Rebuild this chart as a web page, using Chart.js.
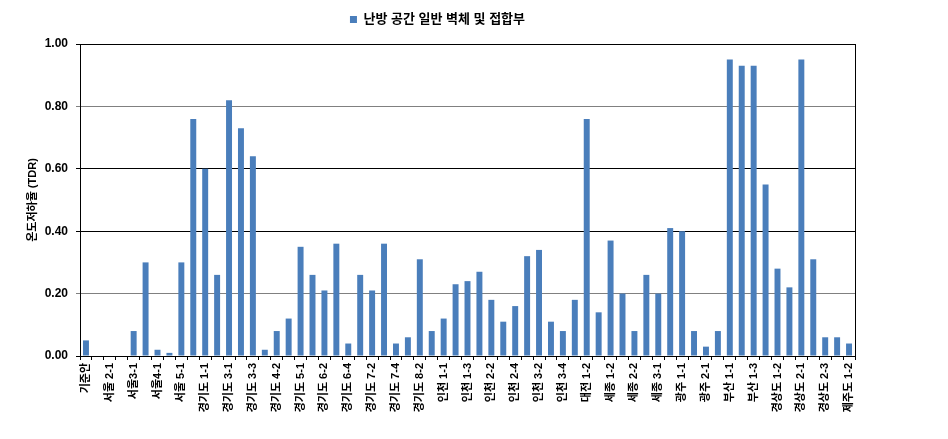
<!DOCTYPE html>
<html>
<head>
<meta charset="utf-8">
<script src="https://cdn.jsdelivr.net/npm/chart.js@4"></script>
<style>
  html, body { margin: 0; padding: 0; background: #fff; }
  #wrap { width: 948px; height: 439px; }
</style>
</head>
<body>
<div id="wrap"><canvas id="tdrChart" width="948" height="439"></canvas></div>
<script>
// categories (only every other one is labelled on the axis)
const categories = [
    '기준안', '서울 1-1', '서울 2-1', '서울 2-2', '서울3-1', '서울3-2', '서울4-1', '서울4-2',
    '서울 5-1', '서울 5-2', '경기도 1-1', '경기도 1-2', '경기도 3-1', '경기도 3-2', '경기도 3-3',
    '경기도 4-1', '경기도 4-2', '경기도 4-3', '경기도 5-1', '경기도 6-1', '경기도 6-2', '경기도 6-3',
    '경기도 6-4', '경기도 7-1', '경기도 7-2', '경기도 7-3', '경기도 7-4', '경기도 8-1', '경기도 8-2',
    '경기도 8-3', '인천 1-1', '인천 1-2', '인천 1-3', '인천 2-1', '인천 2-2', '인천 2-3', '인천 2-4',
    '인천 3-1', '인천 3-2', '인천 3-3', '인천 3-4', '대전 1-1', '대전 1-2', '세종 1-1', '세종 1-2',
    '세종 2-1', '세종 2-2', '세종 2-3', '세종 3-1', '세종 3-2', '광주 1-1', '광주 1-2', '광주 2-1',
    '광주 2-2', '부산 1-1', '부산 1-2', '부산 1-3', '경상도 1-1', '경상도 1-2', '경상도 1-3',
    '경상도 2-1', '경상도 2-2', '경상도 2-3', '제주도 1-1', '제주도 1-2'
];

// 온도저하율 (TDR) per case
const tdrValues = [
    0.05, 0.00, 0.00, 0.00, 0.08, 0.30, 0.02, 0.01, 0.30, 0.76,
    0.60, 0.26, 0.82, 0.73, 0.64, 0.02, 0.08, 0.12, 0.35, 0.26,
    0.21, 0.36, 0.04, 0.26, 0.21, 0.36, 0.04, 0.06, 0.31, 0.08,
    0.12, 0.23, 0.24, 0.27, 0.18, 0.11, 0.16, 0.32, 0.34, 0.11,
    0.08, 0.18, 0.76, 0.14, 0.37, 0.20, 0.08, 0.26, 0.20, 0.41,
    0.40, 0.08, 0.03, 0.08, 0.95, 0.93, 0.93, 0.55, 0.28, 0.22,
    0.95, 0.31, 0.06, 0.06, 0.04
];

const seriesLabel = '난방 공간 일반 벽체 및 접합부';
const yAxisTitle = '온도저하율 (TDR)';

const FONT = "'Liberation Sans', 'Noto Sans CJK KR', sans-serif";

// leave some room under the legend, like the original
const legendGap = {
    id: 'legendGap',
    beforeLayout(chart) {
        const lg = chart.legend;
        if (lg && !lg._gapPatched) {
            const fit = lg.fit;
            lg.fit = function () {
                fit.call(this);
                this.height += 8;
            };
            lg._gapPatched = true;
        }
    }
};

const ctx = document.getElementById('tdrChart').getContext('2d');
new Chart(ctx, {
    type: 'bar',
    data: {
        labels: categories,
        datasets: [{
            label: seriesLabel,
            data: tdrValues,
            backgroundColor: '#4a7ebb',
            borderWidth: 0,
            barPercentage: 0.5,
            categoryPercentage: 1.0
        }]
    },
    options: {
        responsive: false,
        animation: false,
        layout: { padding: { top: 3, left: 20, right: 93, bottom: 0 } },
        plugins: {
            tooltip: { enabled: false },
            legend: {
                position: 'top',
                labels: {
                    boxWidth: 7,
                    boxHeight: 7,
                    padding: 10,
                    color: '#000',
                    font: { family: FONT, size: 13, weight: 'bold' }
                }
            }
        },
        scales: {
            x: {
                grid: {
                    drawOnChartArea: false,
                    drawTicks: true,
                    tickLength: 4,
                    color: '#000'
                },
                border: { color: '#000', width: 1 },
                ticks: {
                    autoSkip: false,
                    minRotation: 90,
                    maxRotation: 90,
                    padding: 3,
                    color: '#000',
                    font: { family: FONT, size: 11, weight: 'bold' },
                    callback: (v, i) => (i % 2 === 0 ? categories[i] : '')
                },
                afterFit(scale) { scale.height = 83; }
            },
            y: {
                min: 0,
                max: 1,
                ticks: {
                    stepSize: 0.2,
                    padding: 8,
                    color: '#000',
                    font: { family: FONT, size: 12, weight: 'bold' },
                    callback: v => Number(v).toFixed(2)
                },
                grid: {
                    tickLength: 4,
                    color: c => {
                        const v = Math.round(c.tick.value * 10);
                        return (v === 2 || v === 8) ? '#808080' : '#000';
                    }
                },
                border: { color: '#000', width: 1 },
                title: {
                    display: true,
                    text: yAxisTitle,
                    color: '#000',
                    padding: { top: 6, bottom: 4 },
                    font: { family: FONT, size: 11, weight: 'bold' }
                },
                afterFit(scale) { scale.width = 60; }
            },
            yRight: {
                position: 'right',
                min: 0,
                max: 1,
                ticks: { display: false },
                grid: { drawOnChartArea: false, drawTicks: false },
                border: { color: '#000', width: 1 },
                afterFit(scale) { scale.width = 0; }
            }
        }
    },
    plugins: [legendGap]
});
</script>
</body>
</html>
